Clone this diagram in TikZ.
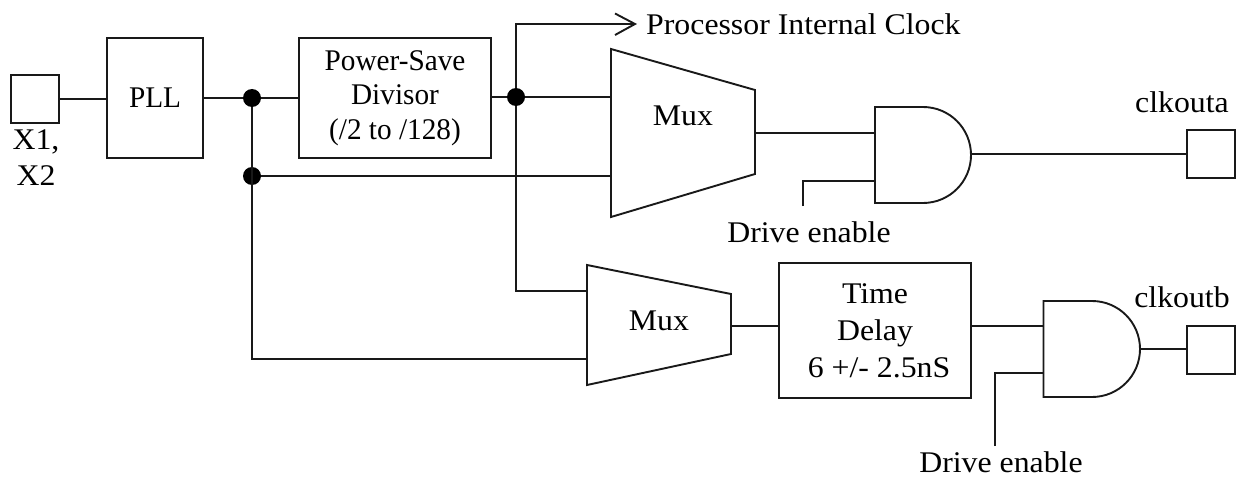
\documentclass[tikz,border=0pt]{standalone}
\usepackage{fontspec}
\setmainfont[FakeStretch=1.06]{Liberation Serif}
\newfontfamily\narrowserif[FakeStretch=0.975]{Liberation Serif}
\usetikzlibrary{calc}
\newcommand{\lowered}[2]{\raisebox{-#1pt}{#2}}
\tikzset{
  wire/.style={line width=1.9pt,draw=black!90},
  blockbox/.style={draw=black!90,line width=1.9pt,inner sep=0pt,align=center,font=\fontsize{30}{37}\selectfont},
  narrowbox/.style={blockbox,font=\narrowserif\fontsize{30}{34.5}\selectfont},
  lbl/.style={inner sep=0pt,align=center,font=\fontsize{30}{36}\selectfont},
  dotj/.style={circle,fill=black,draw=none,minimum size=18pt,inner sep=0pt},
  gate/.style={line width=1.9pt,draw=black!90,line join=miter}
}
\begin{document}
\begin{tikzpicture}[x=1pt,y=-1pt]
\useasboundingbox (0,0) rectangle (1238,476);
% blocks
\node[blockbox,minimum width=48pt,minimum height=48pt] (x1) at (35,99) {};
\node[narrowbox,minimum width=96pt,minimum height=120pt] (pll) at (155,98) {\lowered{2}{PLL}};
\node[narrowbox,minimum width=192pt,minimum height=120pt] (div) at (395,98) {\lowered{2}{Power-Save}\\\lowered{2}{Divisor}\\\lowered{2}{(/2 to /128)}};
\node[blockbox,minimum width=192pt,minimum height=135pt] (delay) at (875,330.5) {\lowered{1}{Time}\\\lowered{1}{Delay}\\\lowered{1}{\hspace*{8pt}6 +/- 2.5nS}};
\node[blockbox,minimum width=48pt,minimum height=48pt] (outa) at (1211,154) {};
\node[blockbox,minimum width=48pt,minimum height=48pt] (outb) at (1211,350) {};
% junctions
\node[dotj] (j1) at (252,98) {};
\node[dotj] (j2) at (252,176) {};
\node[dotj] (j3) at (516,97) {};
% muxes
\draw[gate] (611,49) -- (755,90) -- (755,174) -- (611,217) -- cycle;
\node[lbl] (muxa) at (683,116) {Mux};
\draw[gate] (587,265) -- (731,294) -- (731,354) -- (587,385) -- cycle;
\node[lbl] (muxb) at (659,321) {Mux};
% AND gates
\draw[gate] (923,107) -- (875,107) -- (875,203) -- (923,203) arc[start angle=-90,end angle=90,radius=48pt] -- cycle;
\draw[gate] (1092,301) -- (1043.5,301) -- (1043.5,397) -- (1092,397) arc[start angle=-90,end angle=90,radius=48pt] -- cycle;
% anchors on the muxes and gates
\coordinate (m1i1) at (611,97);
\coordinate (m1i2) at (611,176);
\coordinate (m1o) at (755,133);
\coordinate (a1i1) at (875,133);
\coordinate (a1i2) at (875,181);
\coordinate (a1o) at (971,154);
\coordinate (m2i1) at (587,291);
\coordinate (m2i2) at (587,359);
\coordinate (m2o) at (731,326);
\coordinate (a2i1) at (1043.5,326);
\coordinate (a2i2) at (1043.5,373);
\coordinate (a2o) at (1140,349);
\coordinate (de1) at (803,206);
\coordinate (de2) at (995,446);
\coordinate (clk) at (635,24);
\coordinate (ah1) at (615,13.5);
\coordinate (ah2) at (615,35);
% texts
\node[lbl] (xl) at (36,158) {X1,\\X2};
\node[lbl,anchor=west] (proc) at (646,24) {Processor Internal Clock};
\node[lbl] (dea) at (809,232) {Drive enable};
\node[lbl] (deb) at (1001,462.5) {Drive enable};
\node[lbl] (cka) at (1182,102) {clkouta};
\node[lbl] (ckb) at (1182,297) {clkoutb};
% connectors
\draw[wire] (x1.east) -- (pll.west |- x1.east);
\draw[wire] (pll.east) -- (j1) -- (div.west);
\draw[wire] (j1) |- (m2i2);
\draw[wire] (j2) -- (m1i2);
\draw[wire] (div.east |- j3) -- (j3) -- (m1i1);
\draw[wire] (m2i1) -| (j3);
\draw[wire] (j3) -- (j3 |- clk) -- (clk);
\draw[wire] (ah1) -- (clk) -- (ah2);
\draw[wire] (m1o) -- (a1i1);
\draw[wire] (de1) |- (a1i2);
\draw[wire] (a1o) -- (outa.west |- a1o);
\draw[wire] (m2o) -- (delay.west |- m2o);
\draw[wire] (delay.east |- a2i1) -- (a2i1);
\draw[wire] (de2) |- (a2i2);
\draw[wire] (a2o) -- (outb.west |- a2o);
\end{tikzpicture}
\end{document}
